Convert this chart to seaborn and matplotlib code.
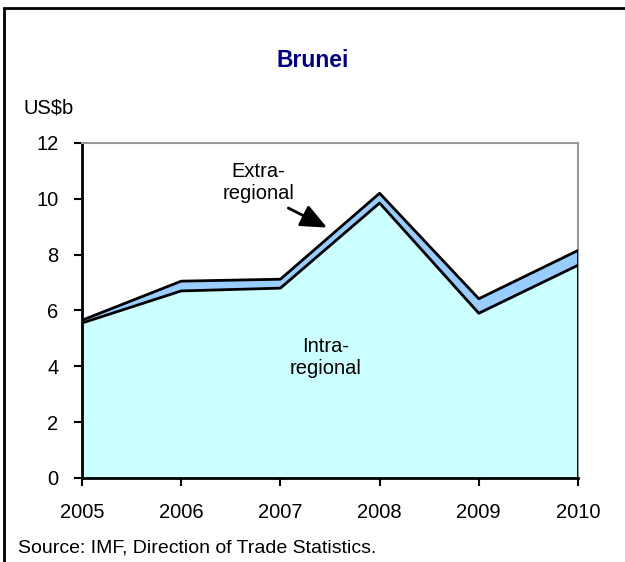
import matplotlib.pyplot as plt
import matplotlib.patches as mpatches
import seaborn as sns
import pandas as pd

years = [2005, 2006, 2007, 2008, 2009, 2010]
intra_regional = [5.55, 6.70, 6.80, 9.85, 5.90, 7.62]
total_trade = [5.65, 7.05, 7.12, 10.20, 6.42, 8.15]
y_ticks = [0, 2, 4, 6, 8, 10, 12]


def main():
    sns.set_style("white")
    plt.rcParams["font.family"] = ["Liberation Sans", "DejaVu Sans"]
    plt.rcParams["text.color"] = "black"

    df = pd.DataFrame({"year": years, "intra": intra_regional, "total": total_trade})

    fig = plt.figure(figsize=(6.25, 5.62), dpi=100)
    ax = fig.add_axes([0.1312, 0.1495, 0.7936, 0.5961])

    # stacked areas
    ax.fill_between(df["year"], 0, df["intra"], color="#CCFFFF", linewidth=0, zorder=1)
    ax.fill_between(df["year"], df["intra"], df["total"], color="#99CCFF", linewidth=0, zorder=1)
    sns.lineplot(data=df, x="year", y="intra", color="black", linewidth=2, ax=ax, zorder=3)
    sns.lineplot(data=df, x="year", y="total", color="black", linewidth=2, ax=ax, zorder=3)
    ax.plot([years[-1], years[-1]], [0, total_trade[-1]], color="black", linewidth=2, zorder=3)

    ax.set_xlim(years[0], years[-1])
    ax.set_ylim(0, 12)
    ax.set_xticks(years)
    ax.set_yticks(y_ticks)
    ax.set_xlabel("")
    ax.set_ylabel("")
    ax.tick_params(axis="both", direction="out", length=6, width=1.5, color="black",
                   labelcolor="black", labelsize=14.5, left=True, bottom=True)
    ax.tick_params(axis="x", pad=12)
    ax.tick_params(axis="y", pad=11)

    for side in ["left", "bottom"]:
        ax.spines[side].set_color("black")
        ax.spines[side].set_linewidth(2)
    for side in ["top", "right"]:
        ax.spines[side].set_color("#999999")
        ax.spines[side].set_linewidth(1.5)

    ax.text(2006.78, 10.57, "Extra-\nregional", ha="center", va="center", fontsize=14.5)
    ax.annotate("", xy=(2007.47, 8.97), xytext=(2007.08, 9.67),
                arrowprops=dict(arrowstyle="-|>,head_length=0.8,head_width=0.35",
                                mutation_scale=20, color="black", linewidth=2,
                                shrinkA=0, shrinkB=0))
    ax.text(2007.46, 4.33, "Intra-\nregional", ha="center", va="center", fontsize=14.5)

    fig.text(0.5, 0.893, "Brunei", ha="center", va="center", fontsize=16.5,
             fontweight="bold", color="#000080")
    fig.text(0.037, 0.808, "US$b", ha="left", va="center", fontsize=14.5)
    fig.text(0.029, 0.025, "Source: IMF, Direction of Trade Statistics.", ha="left",
             va="center", fontsize=14)

    # outer frame
    fig.patches.append(mpatches.Rectangle((0.0065, -0.05), 1.2, 1.035, transform=fig.transFigure,
                                          fill=False, edgecolor="black", linewidth=2))

    fig.savefig("out.png", dpi=100)


if __name__ == "__main__":
    main()
